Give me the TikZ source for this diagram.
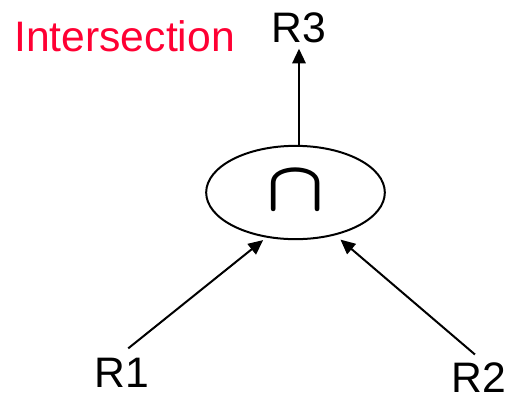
\documentclass[tikz,border=0pt]{standalone}
\usepackage{fontspec}
\setmainfont{Liberation Sans}
\usetikzlibrary{arrows.meta,shapes.geometric}
\definecolor{titlered}{RGB}{255,0,51}

\begin{document}
\begin{tikzpicture}[x=0.75pt,y=-0.75pt,
	relname/.style={inner sep=3pt,font=\fontsize{32}{32}\selectfont},
	relarrow/.style={-{Triangle[width=10pt,length=11pt]},line width=1.5pt}]

	% ---- canvas

	\useasboundingbox (0,0) rectangle (506,394);

	% ---- title

	\node[relname,text=titlered,anchor=base west,inner sep=0pt] (title) at (14,51) {Intersection};

	% ---- operator

	\node[ellipse,draw,line width=1.5pt,minimum width=134pt,minimum height=70pt,inner sep=0pt] (op) at (295.5,192.5) {\raisebox{2pt}{\scalebox{5.7}[5.3]{\boldmath$\cap$}}};

	% ---- relations

	\node[relname,anchor=base] (r1) at (122,387) {R1};
	\node[relname,anchor=base] (r2) at (479,392) {R2};
	\node[relname,anchor=base] (r3) at (299,42) {R3};

	% ---- arrows

	\draw[relarrow,shorten <=6pt,shorten >=3pt] (r1.north) -- (op.237);
	\draw[relarrow,shorten <=4pt,shorten >=5pt] (r2.north) -- (op.313);
	\draw[relarrow,shorten >=1.5pt] (op.north -| r3.south) -- (r3.south);

\end{tikzpicture}
\end{document}
